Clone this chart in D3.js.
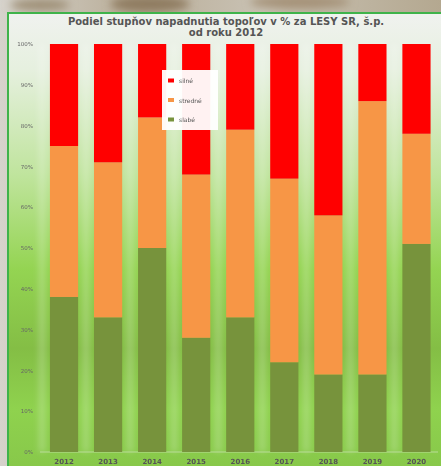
<!DOCTYPE html>
<html>
<head>
<meta charset="utf-8">
<script src="https://cdn.jsdelivr.net/npm/d3@7"></script>
<style>
  html, body { margin: 0; padding: 0; overflow: hidden; background: #cfcac0; }
</style>
</head>
<body>
<div id="chart"></div>
<script>
// data (percent per year)
var years   = ["2012", "2013", "2014", "2015", "2016", "2017", "2018", "2019", "2020"];
var slabe   = [38, 33, 50, 28, 33, 22, 19, 19, 51];
var stredne = [37, 38, 32, 40, 46, 45, 39, 67, 27];
var silne   = [25, 29, 18, 32, 21, 33, 42, 14, 22];
var yTicks  = [0, 10, 20, 30, 40, 50, 60, 70, 80, 90, 100];
var seriesNames  = ["slabé", "stredné", "silné"];
var seriesColors = ["#77933c", "#f79646", "#ff0000"];

var width = 441, height = 466;
var font = "DejaVu Sans, Verdana, sans-serif";

var svg = d3.select("#chart").append("svg")
    .attr("width", width)
    .attr("height", height);

var defs = svg.append("defs");

// blurry photo behind the chart
var bg = defs.append("linearGradient").attr("id", "photo")
    .attr("x1", 0).attr("y1", 0).attr("x2", 1).attr("y2", 0);
bg.append("stop").attr("offset", "0%").attr("stop-color", "#d6d3cc");
bg.append("stop").attr("offset", "30%").attr("stop-color", "#b9ad98");
bg.append("stop").attr("offset", "60%").attr("stop-color", "#c9c2b4");
bg.append("stop").attr("offset", "100%").attr("stop-color", "#b4a890");
svg.append("rect").attr("width", width).attr("height", height).attr("fill", "url(#photo)");

var blur = defs.append("filter").attr("id", "blur");
blur.append("feGaussianBlur").attr("stdDeviation", 4);
var blobs = svg.append("g").attr("filter", "url(#blur)");
blobs.append("ellipse").attr("cx", 150).attr("cy", 4).attr("rx", 40).attr("ry", 8).attr("fill", "#8f7c60");
blobs.append("ellipse").attr("cx", 300).attr("cy", 2).attr("rx", 50).attr("ry", 7).attr("fill", "#a59278");
blobs.append("ellipse").attr("cx", 40).attr("cy", 5).attr("rx", 30).attr("ry", 6).attr("fill", "#9e8f76");

// chart area background
var cg = defs.append("linearGradient").attr("id", "chartBg")
    .attr("x1", 0).attr("y1", 0).attr("x2", 0).attr("y2", 1);
cg.append("stop").attr("offset", "0%").attr("stop-color", "#f0f2ef");
cg.append("stop").attr("offset", "12%").attr("stop-color", "#e6f0df");
cg.append("stop").attr("offset", "35%").attr("stop-color", "#bfe49c");
cg.append("stop").attr("offset", "55%").attr("stop-color", "#94d452");
cg.append("stop").attr("offset", "72%").attr("stop-color", "#84be45");
cg.append("stop").attr("offset", "85%").attr("stop-color", "#8fd24e");
cg.append("stop").attr("offset", "100%").attr("stop-color", "#86c649");

svg.append("rect")
    .attr("x", 8).attr("y", 13)
    .attr("width", width).attr("height", height)
    .attr("fill", "url(#chartBg)")
    .attr("stroke", "#3fb34a")
    .attr("stroke-width", 2);

// title
var title = svg.append("text")
    .attr("text-anchor", "middle")
    .attr("font-family", font)
    .attr("font-size", "10px")
    .attr("font-weight", "bold")
    .attr("fill", "#555555");
title.append("tspan").attr("x", 226).attr("y", 25)
    .text("Podiel stupňov napadnutia topoľov v % za LESY SR, š.p.");
title.append("tspan").attr("x", 226).attr("y", 36)
    .text("od roku 2012");

// scales
var x = d3.scaleBand()
    .domain(years)
    .range([42, 438.5])
    .paddingInner(0.36)
    .paddingOuter(0.18);

var y = d3.scaleLinear()
    .domain([0, 100])
    .range([452, 44]);

// soft light stripes in the gaps between bars
var glow = defs.append("filter").attr("id", "glow")
    .attr("x", "-100%").attr("width", "300%");
glow.append("feGaussianBlur").attr("stdDeviation", 3);
svg.append("g")
    .attr("filter", "url(#glow)")
    .selectAll("rect")
    .data(years)
    .enter()
    .append("rect")
    .attr("x", function(d) { return x(d) - x.step() * x.paddingInner() / 2 - 3; })
    .attr("y", y(100))
    .attr("width", 6)
    .attr("height", y(0) - y(100))
    .attr("fill", "#ffffff")
    .attr("opacity", 0.25);

// axes
var yAxis = svg.append("g")
    .attr("transform", "translate(33,0)")
    .call(d3.axisLeft(y).tickValues(yTicks).tickSize(0).tickPadding(0)
        .tickFormat(function(d) { return d + "%"; }));
yAxis.select(".domain").remove();
yAxis.selectAll("text")
    .attr("font-family", font)
    .attr("font-size", "5.5px")
    .attr("fill", "#666");

svg.append("line")
    .attr("x1", 40).attr("x2", 438)
    .attr("y1", y(0)).attr("y2", y(0))
    .attr("stroke", "#b9dc98")
    .attr("stroke-width", 1);

var xAxis = svg.append("g")
    .attr("transform", "translate(0," + y(0) + ")")
    .call(d3.axisBottom(x).tickSize(0).tickPadding(7));
xAxis.select(".domain").remove();
xAxis.selectAll("text")
    .attr("font-family", font)
    .attr("font-size", "7px")
    .attr("font-weight", "bold")
    .attr("fill", "#555");

// stacked bars
var table = years.map(function(yr, i) {
    return { year: yr, "slabé": slabe[i], "stredné": stredne[i], "silné": silne[i] };
});
var stack = d3.stack().keys(seriesNames)(table);

svg.append("g")
    .selectAll("g")
    .data(stack)
    .enter()
    .append("g")
    .attr("fill", function(d, i) { return seriesColors[i]; })
    .selectAll("rect")
    .data(function(d) { return d; })
    .enter()
    .append("rect")
    .attr("x", function(d) { return x(d.data.year); })
    .attr("y", function(d) { return y(d[1]); })
    .attr("width", x.bandwidth())
    .attr("height", function(d) { return y(d[0]) - y(d[1]); });

// legend
var legend = svg.append("g").attr("transform", "translate(162,70)");
legend.append("rect")
    .attr("width", 56).attr("height", 60)
    .attr("fill", "#ffffff")
    .attr("opacity", 0.95);

var legendOrder = [2, 1, 0];
legend.selectAll("g.item")
    .data(legendOrder)
    .enter()
    .append("g")
    .attr("class", "item")
    .attr("transform", function(d, i) { return "translate(6," + (8.5 + i * 19.5) + ")"; })
    .each(function(d) {
        var g = d3.select(this);
        g.append("rect")
            .attr("width", 6).attr("height", 4)
            .attr("fill", seriesColors[d]);
        g.append("text")
            .attr("x", 11).attr("y", 4.5)
            .attr("font-family", font)
            .attr("font-size", "6px")
            .attr("fill", "#555")
            .text(seriesNames[d]);
    });
</script>
</body>
</html>
